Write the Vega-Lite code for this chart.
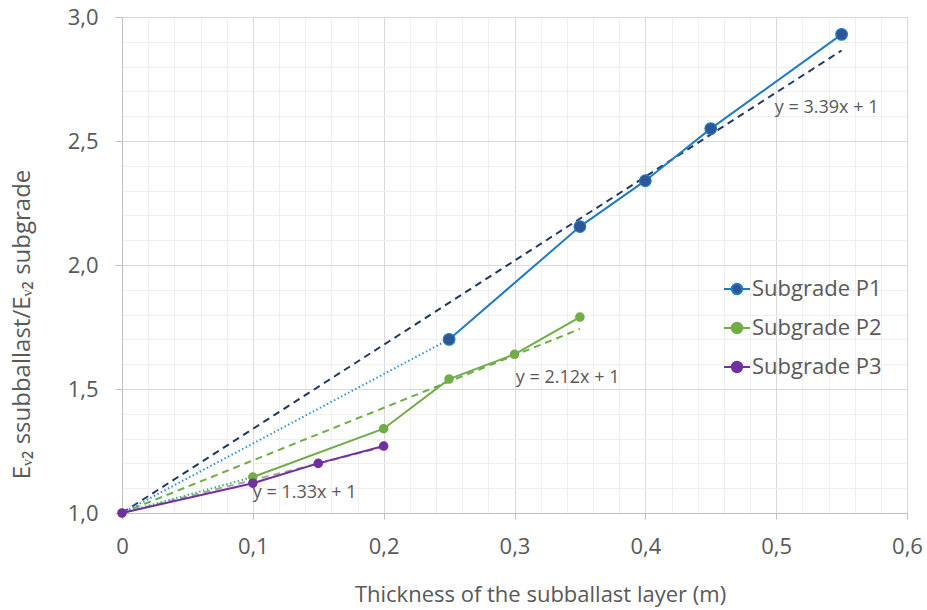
{
  "$schema": "https://vega.github.io/schema/vega-lite/v6.json",
  "width": 785,
  "height": 496,
  "autosize": {"type": "none"},
  "padding": {"left": 122, "top": 17, "right": 20, "bottom": 97},
  "background": "white",
  "config": {
    "view": {"stroke": null},
    "font": "Open Sans",
    "axis": {"labelColor": "#595959", "titleColor": "#595959", "titleFontWeight": "normal", "labelFontSize": 22, "titleFontSize": 22, "labelFont": "Open Sans", "titleFont": "Open Sans"}
  },
  "datasets": {
    "lines": [
      {"k": "trend P1", "x": 0, "y": 1},
      {"k": "trend P1", "x": 0.55, "y": 2.865},
      {"k": "trend P2", "x": 0, "y": 1},
      {"k": "trend P2", "x": 0.35, "y": 1.742},
      {"k": "trend P3", "x": 0, "y": 1},
      {"k": "trend P3", "x": 0.2, "y": 1.266},
      {"k": "dotted P1", "x": 0, "y": 1},
      {"k": "dotted P1", "x": 0.25, "y": 1.70},
      {"k": "dotted P2", "x": 0, "y": 1},
      {"k": "dotted P2", "x": 0.1, "y": 1.145}
    ],
    "pts": [
      {"k": "Subgrade P1", "x": 0.25, "y": 1.70},
      {"k": "Subgrade P1", "x": 0.35, "y": 2.155},
      {"k": "Subgrade P1", "x": 0.40, "y": 2.34},
      {"k": "Subgrade P1", "x": 0.45, "y": 2.55},
      {"k": "Subgrade P1", "x": 0.55, "y": 2.93},
      {"k": "Subgrade P2", "x": 0.1, "y": 1.145},
      {"k": "Subgrade P2", "x": 0.2, "y": 1.34},
      {"k": "Subgrade P2", "x": 0.25, "y": 1.54},
      {"k": "Subgrade P2", "x": 0.3, "y": 1.64},
      {"k": "Subgrade P2", "x": 0.35, "y": 1.79},
      {"k": "Subgrade P3", "x": 0, "y": 1},
      {"k": "Subgrade P3", "x": 0.1, "y": 1.12},
      {"k": "Subgrade P3", "x": 0.15, "y": 1.2},
      {"k": "Subgrade P3", "x": 0.2, "y": 1.27}
    ],
    "labels": [
      {"text": "y = 3.39x + 1", "x": 0.499, "y": 2.633},
      {"text": "y = 2.12x + 1", "x": 0.301, "y": 1.544},
      {"text": "y = 1.33x + 1", "x": 0.1, "y": 1.081}
    ]
  },
  "layer": [
    {
      "data": {"name": "lines"},
      "mark": {"type": "point", "opacity": 0},
      "encoding": {
        "x": {"field": "x", "type": "quantitative", "scale": {"domain": [0, 0.6], "nice": false, "zero": false},
          "axis": {"orient": "top", "values": [0,0.02,0.04,0.06,0.08,0.1,0.12,0.14,0.16,0.18,0.2,0.22,0.24,0.26,0.28,0.3,0.32,0.34,0.36,0.38,0.4,0.42,0.44,0.46,0.48,0.5,0.52,0.54,0.56,0.58,0.6], "grid": true, "gridColor": "#EFEFEF", "gridWidth": 1, "labels": false, "ticks": false, "domain": false, "title": null}},
        "y": {"field": "y", "type": "quantitative", "scale": {"domain": [1, 3], "nice": false, "zero": false},
          "axis": {"orient": "right", "values": [1,1.1,1.2,1.3,1.4,1.5,1.6,1.7,1.8,1.9,2,2.1,2.2,2.3,2.4,2.5,2.6,2.7,2.8,2.9,3], "grid": true, "gridColor": "#EFEFEF", "gridWidth": 1, "labels": false, "ticks": false, "domain": false, "title": null}}
      }
    },
    {
      "layer": [
        {
          "data": {"name": "lines"},
          "transform": [{"filter": {"field": "k", "oneOf": ["trend P1", "trend P2", "trend P3"]}}],
          "mark": {"type": "line", "strokeWidth": 2, "strokeDash": [7, 5]},
          "encoding": {
            "x": {"field": "x", "type": "quantitative", "scale": {"domain": [0, 0.6], "nice": false, "zero": false},
              "axis": {"values": [0, 0.1, 0.2, 0.3, 0.4, 0.5, 0.6], "labelExpr": "datum.value == 0 ? '0' : replace(format(datum.value, '.1f'), '.', ',')", "labelFlush": false, "grid": true, "gridColor": "#D9D9D9", "domainColor": "#BFBFBF", "tickColor": "#BFBFBF", "tickSize": 6, "labelPadding": 17, "title": "Thickness of the subballast layer (m)", "titleX": 418, "titleY": 81, "titleBaseline": "middle", "titleAlign": "center"}},
            "y": {"field": "y", "type": "quantitative", "scale": {"domain": [1, 3], "nice": false, "zero": false},
              "axis": {"values": [1, 1.5, 2, 2.5, 3], "labelExpr": "replace(format(datum.value, '.1f'), '.', ',')", "grid": true, "gridColor": "#D9D9D9", "domainColor": "#BFBFBF", "tickColor": "#BFBFBF", "tickSize": 7, "labelPadding": 17, "title": "E\u1d65\u2082 ssubballast/E\u1d65\u2082 subgrade", "titleFontSize": 24, "titleX": -100, "titleY": 307, "titleAngle": -90, "titleBaseline": "middle", "titleAlign": "center"}},
            "color": {"field": "k", "type": "nominal", "legend": null,
              "scale": {"domain": ["trend P1", "trend P2", "trend P3", "dotted P1", "dotted P2"],
                "range": ["#203864", "#70AD47", "#A5A5A5", "#2E8FE0", "#3BB273"]}}
          }
        },
        {
          "data": {"name": "lines"},
          "transform": [{"filter": {"field": "k", "oneOf": ["dotted P1", "dotted P2"]}}],
          "mark": {"type": "line", "strokeWidth": 2, "strokeDash": [1.5, 2.5]},
          "encoding": {
            "x": {"field": "x", "type": "quantitative", "scale": {"domain": [0, 0.6], "nice": false, "zero": false}},
            "y": {"field": "y", "type": "quantitative", "scale": {"domain": [1, 3], "nice": false, "zero": false}},
            "color": {"field": "k", "type": "nominal", "legend": null}
          }
        },
        {
          "data": {"name": "pts"},
          "mark": {"type": "line", "strokeWidth": 2},
          "encoding": {
            "x": {"field": "x", "type": "quantitative", "scale": {"domain": [0, 0.6], "nice": false, "zero": false}},
            "y": {"field": "y", "type": "quantitative", "scale": {"domain": [1, 3], "nice": false, "zero": false}},
            "stroke": {"field": "k", "type": "nominal",
              "scale": {"domain": ["Subgrade P1", "Subgrade P2", "Subgrade P3"], "range": ["#1F7BC9", "#70AD47", "#7030A0"]}}
          }
        },
        {
          "data": {"name": "pts"},
          "mark": {"type": "point", "filled": true, "opacity": 1, "strokeWidth": 1.2, "shape": "circle"},
          "encoding": {
            "x": {"field": "x", "type": "quantitative", "scale": {"domain": [0, 0.6], "nice": false, "zero": false}},
            "y": {"field": "y", "type": "quantitative", "scale": {"domain": [1, 3], "nice": false, "zero": false}},
            "stroke": {"field": "k", "type": "nominal"},
            "size": {"field": "k", "type": "nominal", "legend": null, "scale": {"type": "ordinal", "domain": ["Subgrade P3", "Subgrade P2", "Subgrade P1"], "range": [70, 70, 135]}},
            "fill": {"field": "k", "type": "nominal",
              "scale": {"domain": ["Subgrade P1", "Subgrade P2", "Subgrade P3"], "range": ["#2F5597", "#70AD47", "#7030A0"]},
              "legend": {"orient": "none", "legendX": 601, "legendY": 258, "title": null, "padding": 0,
                "symbolType": "M-1,0H-0.4M0.4,0H1M-0.4,0A0.4,0.4 0 1,1 0.4,0A0.4,0.4 0 1,1 -0.4,0Z",
                "symbolSize": 676, "symbolStrokeWidth": 2, "symbolOpacity": 1,
                "labelFont": "Open Sans", "labelFontSize": 22, "labelColor": "#595959", "labelOffset": 1, "rowPadding": 14}}
          }
        },
        {
          "data": {"name": "labels"},
          "mark": {"type": "text", "align": "left", "baseline": "middle", "fontSize": 18, "color": "#595959", "font": "Open Sans"},
          "encoding": {
            "x": {"field": "x", "type": "quantitative", "scale": {"domain": [0, 0.6], "nice": false, "zero": false}},
            "y": {"field": "y", "type": "quantitative", "scale": {"domain": [1, 3], "nice": false, "zero": false}},
            "text": {"field": "text"}
          }
        }
      ]
    }
  ],
  "resolve": {"scale": {"x": "independent", "y": "independent"}}
}
